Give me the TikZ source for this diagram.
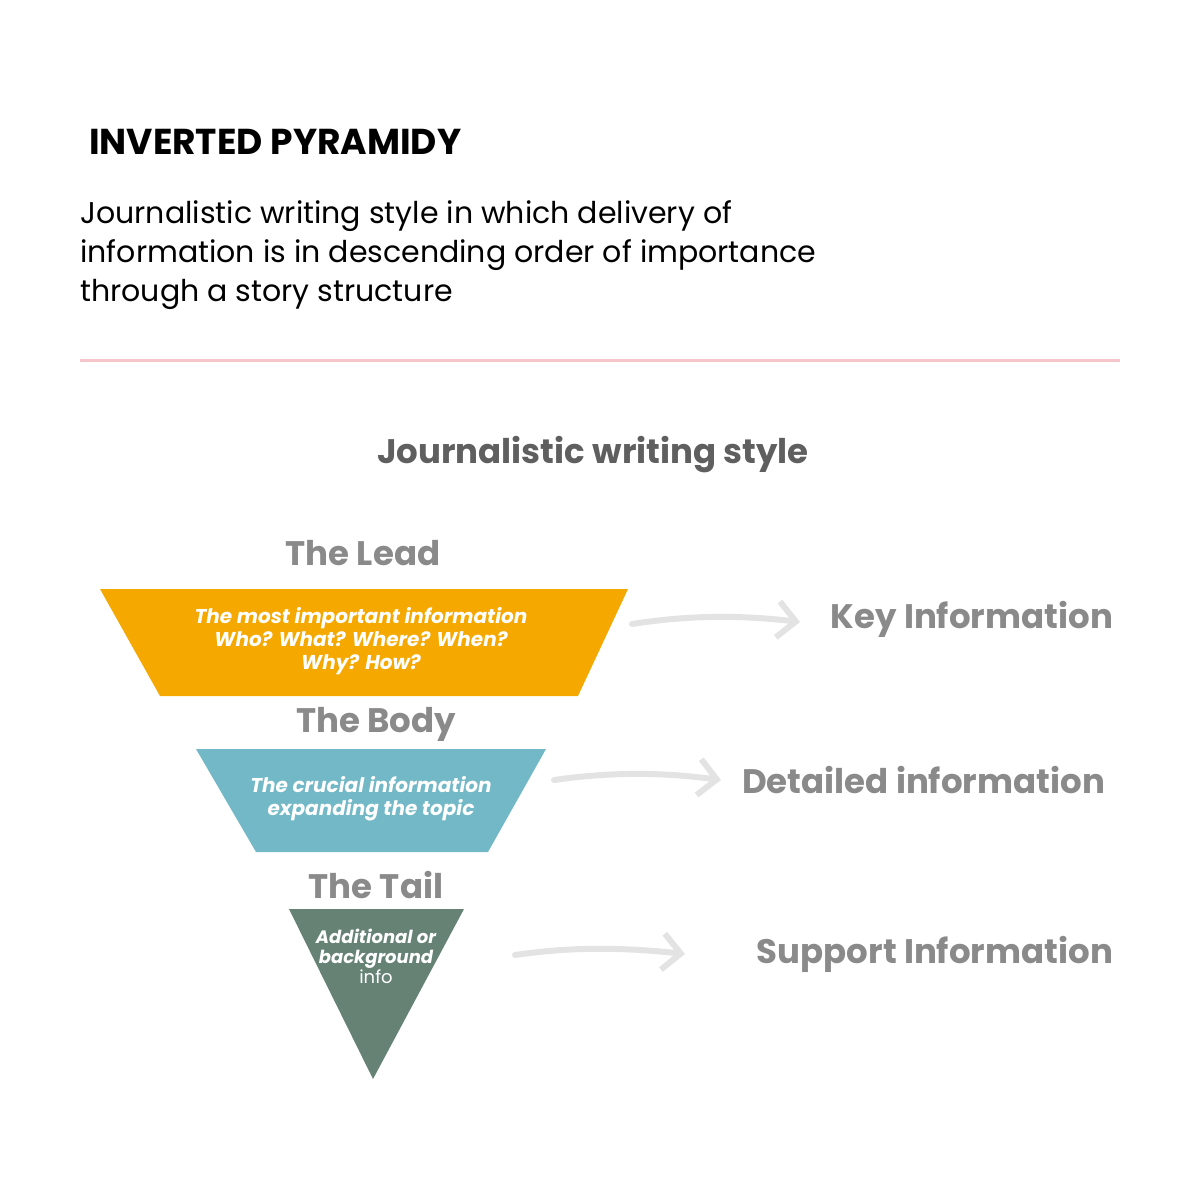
\documentclass[tikz,border=0pt]{standalone}
\usepackage{fontspec}
\setmainfont{Poppins}
\usetikzlibrary{arrows.meta}
\definecolor{lead}{HTML}{F5A800}
\definecolor{body}{HTML}{72B8C6}
\definecolor{tail}{HTML}{658275}
\definecolor{pinkline}{HTML}{F6C6CB}
\definecolor{dgray}{HTML}{5F5F5F}
\definecolor{lgray}{HTML}{8A8A8A}
\definecolor{arr}{HTML}{E3E3E3}
\tikzset{
 sec/.style={font=\fontsize{17}{20}\selectfont\bfseries, text=lgray},
 inner/.style={font=\fontsize{10}{11.5}\selectfont\bfseries\itshape, text=white, align=center},
 conn/.style={draw=arr, line width=3pt, line cap=round, -{Straight Barb[length=9pt,width=18pt,line width=3pt]}},
}
\begin{document}
\begin{tikzpicture}[x=0.5pt,y=-0.5pt]
\useasboundingbox (0,0) rectangle (1200,1200);
\node[anchor=west, font=\fontsize{18}{20}\selectfont\bfseries] (title) at (82,142) {INVERTED PYRAMIDY};
\node[anchor=north west, align=left, font=\fontsize{15}{19.5}\selectfont, inner sep=0] (desc) at (80,200) {Journalistic writing style in which delivery of\\information is in descending order of importance\\through a story structure};
\draw[pinkline, line width=1.5pt] (80,360) -- (1120,360);
\node[font=\fontsize{17}{20}\selectfont\bfseries, text=dgray] (head) at (593,455) {Journalistic writing style};
% shapes
\fill[lead] (100,589) -- (628,589) -- (578,696) -- (160,696) -- cycle;
\fill[body] (196,749) -- (546,749) -- (488,852) -- (256,852) -- cycle;
\fill[tail] (289,909) -- (464,909) -- (373,1079) -- cycle;
\node[sec] (lt) at (363,553) {The Lead};
\node[sec] (bt) at (376,724) {The Body};
\node[sec] (tt) at (376,885) {The Tail};
\node[inner] (li) at (361,641) {The most important information\\Who? What? Where? When?\\Why? How?};
\node[inner] (bi) at (371,799) {The crucial information\\expanding the topic};
\node[inner, font=\fontsize{9}{10}\selectfont\bfseries\itshape] (ti) at (376,956) {Additional or\\background\\\normalfont\fontsize{9}{10}\selectfont info};
\node[sec, anchor=east] (k) at (1120,619) {Key Information};
\node[sec, anchor=east] (d) at (1112,780) {Detailed information};
\node[sec, anchor=east] (s) at (1120,954) {Support Information};
\coordinate (a1) at (632,624); \coordinate (b1) at (800,622);
\coordinate (a2) at (554,780); \coordinate (b2) at (721,780);
\coordinate (a3) at (515,955); \coordinate (b3) at (685,954);
\draw[conn] (a1) .. controls (690,615) and (740,615) .. (b1);
\draw[conn] (a2) .. controls (610,772) and (660,772) .. (b2);
\draw[conn] (a3) .. controls (570,947) and (620,947) .. (b3);
\end{tikzpicture}
\end{document}
